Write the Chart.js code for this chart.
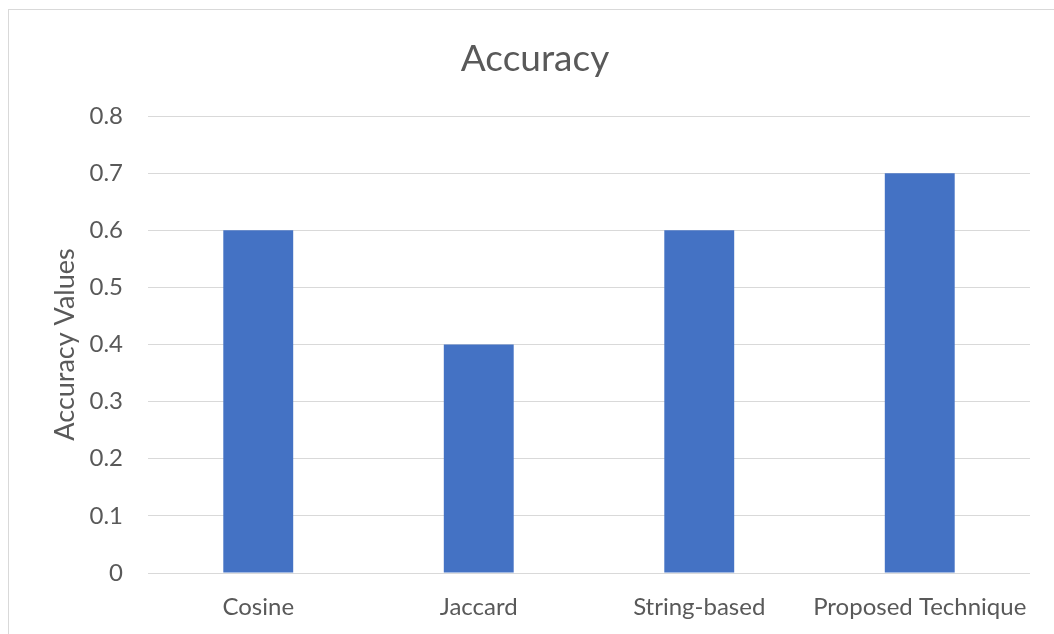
<!DOCTYPE html>
<html>
<head>
<meta charset="utf-8">
<script src="https://cdn.jsdelivr.net/npm/chart.js@4/dist/chart.umd.min.js"></script>
<style>
  html, body { margin: 0; padding: 0; background: #fff; overflow: hidden; }
  #frame { position: absolute; left: 8px; top: 9px; width: 1200px; height: 800px; border: 1px solid #d9d9d9; box-sizing: border-box; }
  #wrap { position: absolute; left: 0; top: 0; width: 1054px; height: 634px; }
</style>
</head>
<body>
<div id="frame"></div>
<div id="wrap"><canvas id="c" width="1054" height="634"></canvas></div>
<script>
const categories = ["Cosine", "Jaccard", "String-based", "Proposed Technique"];
const accuracyValues = [0.6, 0.4, 0.6, 0.7];
const yTicks = [0, 0.1, 0.2, 0.3, 0.4, 0.5, 0.6, 0.7, 0.8];

const FONT = "Lato, 'Open Sans', sans-serif";
const TXT = "#595959";

new Chart(document.getElementById("c"), {
  type: "bar",
  data: {
    labels: categories,
    datasets: [{
      label: "Accuracy",
      data: accuracyValues,
      backgroundColor: "#4472c4",
      borderWidth: 0,
      barPercentage: 0.317,
      categoryPercentage: 1.0
    }]
  },
  options: {
    responsive: false,
    animation: false,
    devicePixelRatio: 1,
    layout: { padding: { left: 40, right: 24, top: 0, bottom: 0 } },
    plugins: {
      legend: { display: false },
      tooltip: { enabled: false },
      title: {
        display: true,
        text: "Accuracy",
        color: TXT,
        font: { family: FONT, size: 37, weight: "normal" },
        padding: { top: 37, bottom: 34.6 }
      }
    },
    scales: {
      x: {
        grid: { display: false, drawTicks: false },
        border: { display: false },
        ticks: { color: TXT, font: { family: FONT, size: 24 }, padding: 20, maxRotation: 0, autoSkip: false },
        afterFit: (s) => { s.height = 61; }
      },
      y: {
        min: 0,
        max: 0.8,
        afterBuildTicks: (s) => { s.ticks = yTicks.map(v => ({ value: v })); },
        grid: { color: "#d9d9d9", lineWidth: 1, drawTicks: false },
        border: { display: false },
        ticks: {
          color: TXT,
          font: { family: FONT, size: 24 },
          padding: 25,
          callback: (v) => String(Math.round(v * 10) / 10)
        },
        title: {
          display: true,
          text: "Accuracy Values",
          color: TXT,
          font: { family: FONT, size: 27 },
          padding: { top: 9, bottom: 0 }
        },
        afterFit: (s) => { s.width = 108; }
      }
    }
  }
});
</script>
</body>
</html>
